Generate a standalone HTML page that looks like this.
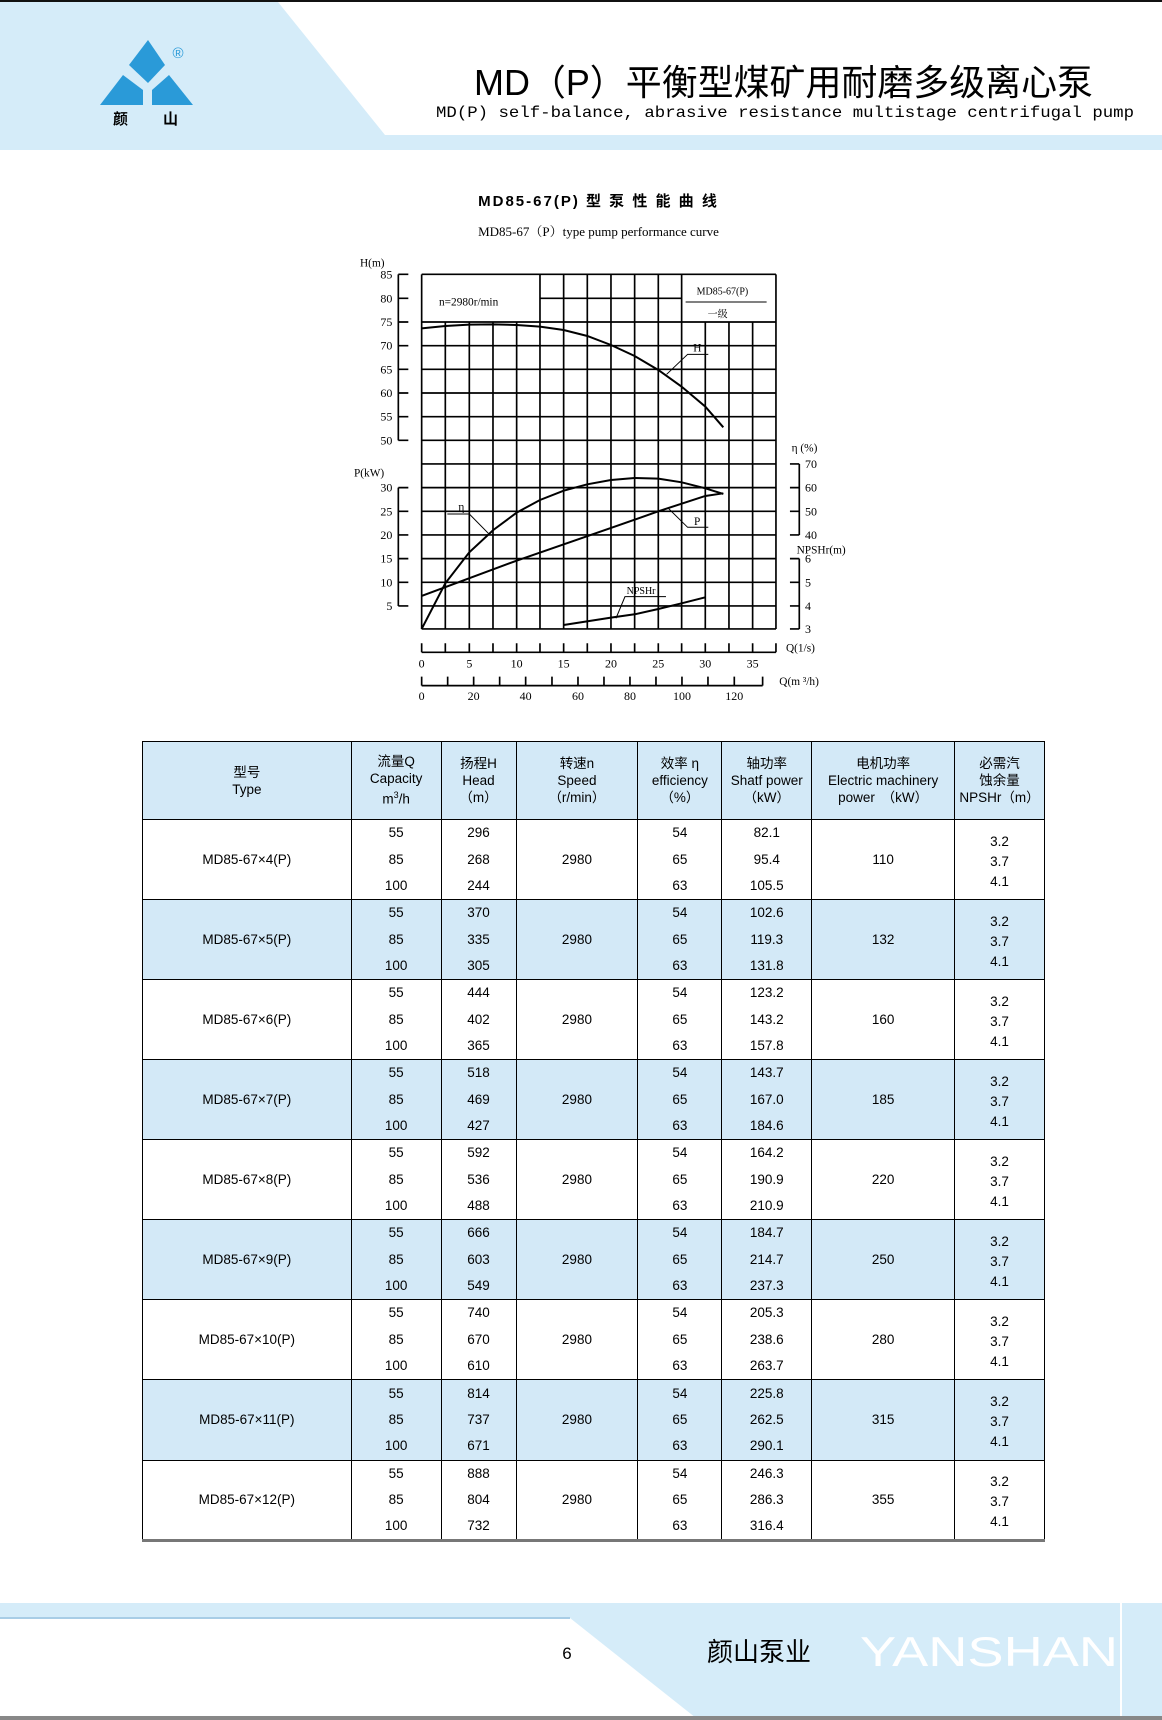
<!DOCTYPE html>
<html><head><meta charset="utf-8"><style>
*{margin:0;padding:0;box-sizing:border-box}
body{width:1162px;height:1720px;position:relative;background:#fff;font-family:"Liberation Sans","Noto Sans CJK SC",sans-serif;overflow:hidden}
.abs{position:absolute}
table{position:absolute;left:142px;top:741px;width:903px;border-collapse:collapse;font-size:13.5px;text-align:center}
td{border-left:1px solid #000;border-right:1px solid #000;padding:0;height:26.7px;line-height:14px}
tr.hd td{background:#d3e9f7;height:78px;border:1px solid #000;line-height:17px}
tr.g td.top{border-top:1px solid #000}
.b td{background:#d3e9f7}
</style></head><body>
<svg class="abs" style="left:0;top:0" width="1162" height="160">
<rect x="0" y="0" width="1162" height="150" fill="#d5ecf9"/>
<polygon points="278,2 1162,2 1162,135 385,135" fill="#fff"/>
<rect x="0" y="0" width="1162" height="2" fill="#111"/>
<polygon points="148,40 165,65 148,83 129,65" fill="#2a9ad8"/>
<polygon points="123,75 100,105 143,105 143,90" fill="#2a9ad8"/>
<polygon points="169,75 193,105 152,105 152,90" fill="#2a9ad8"/>
<text x="178" y="58" font-size="15" fill="#2a9ad8" text-anchor="middle" font-family="Liberation Sans">®</text>
<text x="113" y="124" font-size="15" font-weight="bold" font-family="Noto Sans CJK SC">颜</text>
<text x="163" y="124" font-size="15" font-weight="bold" font-family="Noto Sans CJK SC">山</text>
<text x="474" y="95" font-size="36" font-family="Liberation Sans,Noto Sans CJK SC,sans-serif" textLength="619" lengthAdjust="spacingAndGlyphs">MD（P）平衡型煤矿用耐磨多级离心泵</text>
<text x="436" y="117" font-size="16" font-family="Liberation Mono,monospace" textLength="698" lengthAdjust="spacingAndGlyphs">MD(P) self-balance, abrasive resistance multistage centrifugal pump</text>
</svg>
<div class="abs" style="left:0;width:1197px;top:190px;text-align:center;font-size:15px;font-weight:bold;letter-spacing:2px">MD85-67(P) 型 泵 性 能 曲 线</div>
<div class="abs" style="left:0;width:1197px;top:221px;text-align:center;font-size:13px;font-family:'Liberation Serif','Noto Serif CJK SC',serif">MD85-67（P）type pump performance curve</div>
<svg class="abs" style="left:0;top:0" width="1162" height="720">
<g transform="translate(340,240) scale(0.3333)" fill="none" stroke="#000" font-family="Liberation Serif,Noto Serif CJK SC,serif" font-size="34">
<g stroke-width="5">
<line x1="245" y1="103" x2="1308" y2="103"/>
<line x1="600" y1="175" x2="1025" y2="175"/>
<path d="M245 246H1308M245 317H1308M245 388H1308M245 459H1308M245 530H1308M245 601H1308M245 672H1308M245 743H1308M245 814H1308M245 885H1308M245 956H1308M245 1027H1308M245 1098H1308M245 1167H1308"/>
<path d="M245 103V1167M1308 103V1167M600 103V1167M671 103V1167M742 103V1167M813 103V1167M884 103V1167M955 103V1167M1025 103V1167"/>
<path d="M316 246V1167M388 246V1167M459 246V1167M530 246V1167M1096 246V1167M1167 246V1167M1238 246V1167"/>
<path d="M175 103V601M175 743V1098"/>
<path d="M175 103h30M175 175h30M175 246h30M175 317h30M175 388h30M175 459h30M175 530h30M175 601h30M175 743h30M175 814h30M175 885h30M175 956h30M175 1027h30M175 1098h30"/>
<path d="M1378 672V885M1378 956V1167"/>
<path d="M1350 672h28M1350 743h28M1350 814h28M1350 885h28M1350 956h28M1350 1027h28M1350 1098h28M1350 1167h28"/>
<path d="M245 1237H1308M245 1337H1268"/>
<path d="M245 1210v27M316 1210v27M388 1210v27M459 1210v27M530 1210v27M600 1210v27M671 1210v27M742 1210v27M813 1210v27M884 1210v27M955 1210v27M1025 1210v27M1096 1210v27M1167 1210v27M1238 1210v27M1308 1210v27"/>
<path d="M245 1310v27M323 1310v27M401 1310v27M479 1310v27M557 1310v27M636 1310v27M714 1310v27M792 1310v27M870 1310v27M948 1310v27M1026 1310v27M1104 1310v27M1183 1310v27M1268 1310v27"/>
</g>
<g stroke-width="6">
<polyline points="245,265 316,258 388,254 460,253 530,255 600,260 671,270 742,288 813,315 884,348 955,390 1025,440 1096,500 1150,562"/>
<polyline points="245,1167 316,1030 388,937 460,870 530,818 600,780 671,752 742,733 813,720 884,714 955,716 1025,727 1096,745 1150,762"/>
<polyline points="245,1068 530,962 813,864 955,814 1096,768 1150,760"/>
<polyline points="671,1155 813,1133 884,1123 955,1107 1025,1090 1096,1072"/>
</g>
<g stroke-width="3">
<path d="M980 403L1043 343H1105M445 880L388 822H322M985 805L1043 862H1105M828 1135L855 1070H978M1037 186H1280"/>
</g>
<g fill="#000" stroke="none">
<text x="1060" y="335">H</text><text x="355" y="812">η</text><text x="1062" y="855">P</text><text x="860" y="1062" font-size="30">NPSHr</text>
<text x="297" y="197">n=2980r/min</text>
<text x="1070" y="163" font-size="30">MD85-67(P)</text>
<text x="1103" y="232" font-size="30">一级</text>
<g text-anchor="end" font-size="36">
<text x="157" y="115">85</text><text x="157" y="187">80</text><text x="157" y="258">75</text><text x="157" y="329">70</text><text x="157" y="400">65</text><text x="157" y="471">60</text><text x="157" y="542">55</text><text x="157" y="613">50</text>
<text x="157" y="755">30</text><text x="157" y="826">25</text><text x="157" y="897">20</text><text x="157" y="968">15</text><text x="157" y="1039">10</text><text x="157" y="1110">5</text>
</g>
<text x="60" y="80">H(m)</text><text x="42" y="710">P(kW)</text>
<g font-size="36">
<text x="1395" y="684">70</text><text x="1395" y="755">60</text><text x="1395" y="826">50</text><text x="1395" y="897">40</text>
<text x="1395" y="968">6</text><text x="1395" y="1039">5</text><text x="1395" y="1110">4</text><text x="1395" y="1179">3</text>
</g>
<text x="1355" y="635">η (%)</text><text x="1370" y="940">NPSHr(m)</text>
<text x="1338" y="1235">Q(1/s)</text><text x="1318" y="1335">Q(m ³/h)</text>
<g text-anchor="middle" font-size="36">
<text x="245" y="1282">0</text><text x="388" y="1282">5</text><text x="530" y="1282">10</text><text x="671" y="1282">15</text><text x="813" y="1282">20</text><text x="955" y="1282">25</text><text x="1096" y="1282">30</text><text x="1238" y="1282">35</text>
<text x="245" y="1380">0</text><text x="401" y="1380">20</text><text x="557" y="1380">40</text><text x="714" y="1380">60</text><text x="870" y="1380">80</text><text x="1026" y="1380">100</text><text x="1183" y="1380">120</text>
</g>
</g>
</g>
</svg>
<table>
<colgroup><col style="width:209px"><col style="width:90px"><col style="width:75px"><col style="width:122px"><col style="width:84px"><col style="width:90px"><col style="width:143px"><col style="width:90px"></colgroup>
<tr class="hd"><td>型号<br>Type</td><td>流量Q<br>Capacity<br>m<sup style="font-size:9px">3</sup>/h</td><td>扬程H<br>Head<br>（m）</td><td>转速n<br>Speed<br>（r/min）</td><td>效率 η<br>efficiency<br>（%）</td><td>轴功率<br>Shatf power<br>（kW）</td><td>电机功率<br>Electric machinery<br>power　（kW）</td><td>必需汽<br>蚀余量<br>NPSHr（m）</td></tr>
</table>
<svg class="abs" style="left:0;top:1590px" width="1162" height="130">
<rect x="0" y="13" width="1162" height="117" fill="#d5ecf9"/>
<polygon points="0,28 570,28 696,128 0,128" fill="#fff"/>
<line x1="0" y1="28" x2="570" y2="28" stroke="#a8cde6" stroke-width="2"/>
<rect x="0" y="126" width="1162" height="4" fill="#888"/>
<line x1="1121" y1="13" x2="1121" y2="126" stroke="#fff" stroke-width="2"/>
<text x="567" y="69" font-size="17" text-anchor="middle">6</text>
<text x="707" y="71" font-size="26" font-family="Noto Sans CJK SC,sans-serif">颜山泵业</text>
<text x="860" y="76" font-size="42" fill="#fff" textLength="258" lengthAdjust="spacingAndGlyphs">YANSHAN</text>
</svg>
<script>
var d=[[4,[296,268,244],110,["82.1","95.4","105.5"]],[5,[370,335,305],132,["102.6","119.3","131.8"]],[6,[444,402,365],160,["123.2","143.2","157.8"]],[7,[518,469,427],185,["143.7","167.0","184.6"]],[8,[592,536,488],220,["164.2","190.9","210.9"]],[9,[666,603,549],250,["184.7","214.7","237.3"]],[10,[740,670,610],280,["205.3","238.6","263.7"]],[11,[814,737,671],315,["225.8","262.5","290.1"]],[12,[888,804,732],355,["246.3","286.3","316.4"]]];
var t=document.querySelector('table'),h='';
var q=[55,85,100],e=[54,65,63];
d.forEach(function(r,i){var c=i%2?' b':'';
for(var k=0;k<3;k++){h+='<tr class="g'+c+'">';
if(k==0)h+='<td rowspan="3" class="top">MD85-67×'+r[0]+'(P)</td>';
h+='<td'+(k==0?' class="top"':'')+'>'+q[k]+'</td><td'+(k==0?' class="top"':'')+'>'+r[1][k]+'</td>';
if(k==0)h+='<td rowspan="3" class="top">2980</td>';
h+='<td'+(k==0?' class="top"':'')+'>'+e[k]+'</td><td'+(k==0?' class="top"':'')+'>'+r[3][k]+'</td>';
if(k==0)h+='<td rowspan="3" class="top">'+r[2]+'</td><td rowspan="3" class="top" style="line-height:20px;padding-top:4px">3.2<br>3.7<br>4.1</td>';
h+='</tr>';}});
t.insertAdjacentHTML('beforeend',h);
t.style.borderBottom='3px solid #777';
</script>
</body></html>
